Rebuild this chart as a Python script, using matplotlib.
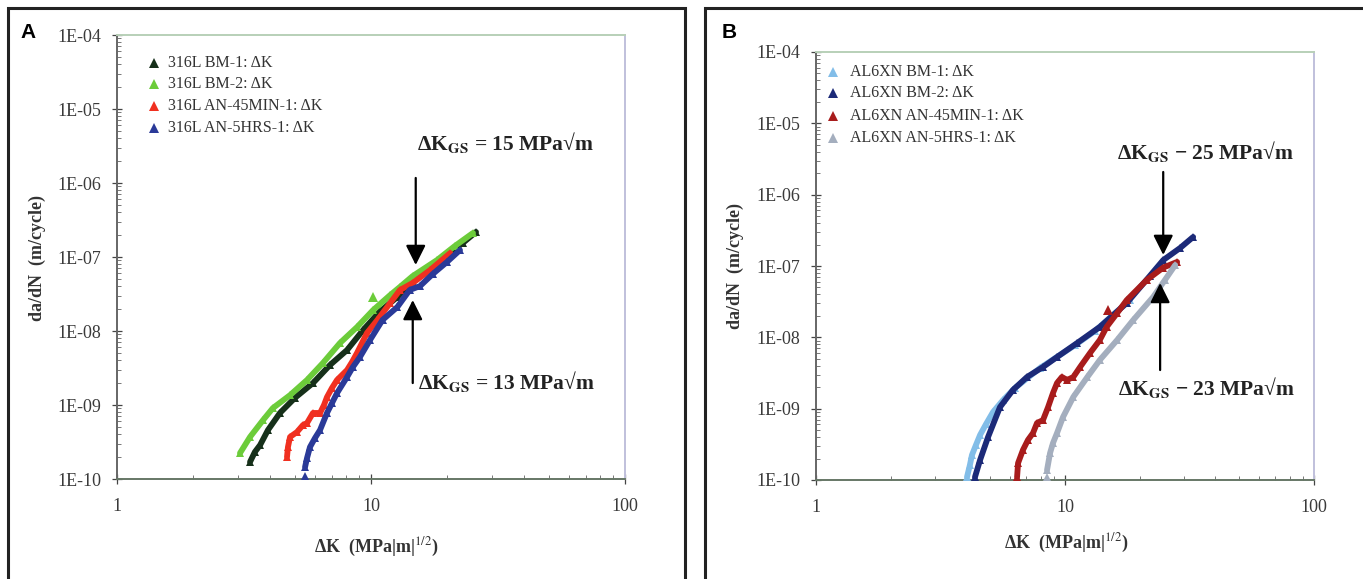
import matplotlib
matplotlib.use("Agg")
import matplotlib.pyplot as plt
from matplotlib.patches import Rectangle
from matplotlib.lines import Line2D

plt.rcParams['font.family'] = ['Liberation Serif', 'DejaVu Serif']
plt.rcParams['mathtext.fontset'] = 'stix'

# ---------------- Panel A data (316L) ----------------
a_bm1_k = [3.34, 3.49, 3.66, 3.93, 4.38, 5.02, 5.91, 6.90, 8.05, 9.31, 10.8, 12.7, 14.6, 17.1, 19.9, 23.0, 25.9]
a_bm1_r = [1.70e-10, 2.32e-10, 2.88e-10, 4.59e-10, 7.80e-10, 1.25e-9, 1.98e-9, 3.48e-9, 5.53e-9, 1.03e-8,
           1.81e-8, 2.88e-8, 4.59e-8, 7.10e-8, 1.06e-7, 1.55e-7, 2.18e-7]

a_bm2_k = [3.05, 3.34, 3.76, 4.11, 4.80, 5.60, 6.47, 7.55, 8.81, 10.2, 11.9, 13.0, 14.6, 18.2, 21.4, 25.2]
a_bm2_r = [2.24e-10, 3.70e-10, 6.26e-10, 9.10e-10, 1.36e-9, 2.18e-9, 3.70e-9, 6.89e-9, 1.13e-8, 1.92e-8,
           3.06e-8, 3.94e-8, 5.53e-8, 9.10e-8, 1.41e-7, 2.11e-7]
a_bm2_out_k = [10.2]
a_bm2_out_r = [2.9e-8]

a_an45_k = [4.67, 4.71, 4.80, 5.11, 5.40, 5.60, 5.91, 6.30, 6.53, 6.71, 7.02, 7.35, 8.05, 8.42, 8.81, 9.64,
            10.6, 11.9, 13.0, 14.6, 17.1, 20.5]
a_an45_r = [1.98e-10, 2.70e-10, 3.70e-10, 4.31e-10, 5.37e-10, 5.71e-10, 7.80e-10, 7.80e-10, 1.0e-9, 1.28e-9,
            1.70e-9, 2.18e-9, 2.97e-9, 3.81e-9, 5.05e-9, 9.40e-9, 1.41e-8, 2.39e-8, 3.58e-8, 4.46e-8,
            6.67e-8, 1.13e-7]

a_an5_k = [5.50, 5.60, 5.75, 6.02, 6.30, 6.71, 7.02, 7.35, 8.05, 8.49, 9.05, 9.91, 11.1, 12.7, 14.2,
           15.6, 17.5, 19.9, 22.4]
a_an5_r = [1.45e-10, 1.92e-10, 2.70e-10, 3.58e-10, 4.59e-10, 7.80e-10, 1.06e-9, 1.45e-9, 2.39e-9,
           3.27e-9, 4.46e-9, 7.55e-9, 1.41e-8, 2.11e-8, 3.58e-8, 4.05e-8, 5.89e-8, 8.55e-8, 1.24e-7]
a_an5_out_k = [5.50]
a_an5_out_r = [1.05e-10]

# ---------------- Panel B data (AL6XN) ----------------
b_bm1_k = [4.04, 4.15, 4.23, 4.39, 4.56, 4.82, 5.14, 5.64, 6.30, 7.94, 11.0, 13.2, 18.2]
b_bm1_r = [1.10e-10, 1.62e-10, 2.24e-10, 3.10e-10, 4.28e-10, 6.10e-10, 8.97e-10, 1.32e-9, 1.95e-9, 3.72e-9,
           7.82e-9, 1.23e-8, 3.33e-8]

b_bm2_k = [4.35, 4.56, 4.91, 5.48, 6.18, 7.04, 8.16, 9.29, 11.2, 13.8, 17.7, 21.9, 24.8, 29.0, 32.7]
b_bm2_r = [1.10e-10, 1.91e-10, 4.01e-10, 1.05e-9, 1.83e-9, 2.78e-9, 3.84e-9, 5.30e-9, 8.34e-9, 1.40e-8,
           3.03e-8, 7.24e-8, 1.21e-7, 1.79e-7, 2.55e-7]

b_an45_k = [6.42, 6.48, 6.78, 7.10, 7.44, 7.72, 8.16, 8.55, 8.95, 9.29, 9.72, 10.2, 10.8, 11.5, 12.6, 13.8,
            14.7, 16.2, 17.7, 21.3, 24.8, 28.2]
b_an45_r = [1.10e-10, 1.73e-10, 2.64e-10, 3.64e-10, 4.56e-10, 6.29e-10, 6.93e-10, 1.05e-9, 1.66e-9, 2.29e-9,
            2.78e-9, 2.52e-9, 2.78e-9, 3.84e-9, 6.02e-9, 9.18e-9, 1.40e-8, 2.19e-8, 3.33e-8,
            6.37e-8, 9.5e-8, 1.14e-7]
b_an45_out_k = [14.9]
b_an45_out_r = [2.4e-8]

b_an5_k = [8.47, 8.71, 8.95, 9.29, 9.82, 10.8, 12.3, 13.8, 16.2, 18.8, 22.6, 25.2, 27.7]
b_an5_r = [1.38e-10, 2.39e-10, 3.30e-10, 4.56e-10, 7.64e-10, 1.46e-9, 2.78e-9, 4.81e-9, 9.18e-9,
           1.75e-8, 3.68e-8, 6.37e-8, 1.03e-7]
b_an5_out_k = [8.47]
b_an5_out_r = [1.08e-10]

a_labels = ["316L BM-1: ΔK", "316L BM-2: ΔK", "316L AN-45MIN-1: ΔK", "316L AN-5HRS-1: ΔK"]
b_labels = ["AL6XN BM-1: ΔK", "AL6XN BM-2: ΔK", "AL6XN AN-45MIN-1: ΔK", "AL6XN AN-5HRS-1: ΔK"]
a_colors = ["#16301a", "#6ccc3a", "#f03020", "#2a3a98"]
b_colors = ["#82bde8", "#1c2a78", "#a81c1c", "#a4aebe"]

y_ticks = [1e-10, 1e-9, 1e-8, 1e-7, 1e-6, 1e-5, 1e-4]
y_tick_labels = ["1E-10", "1E-09", "1E-08", "1E-07", "1E-06", "1E-05", "1E-04"]
x_ticks = [1, 10, 100]
x_tick_labels = ["1", "10", "100"]

# annotations: (K, da/dN) for arrow tail / tip
a_down = ((15.0, 1.17e-6), (15.0, 7.8e-8))
a_up = ((14.6, 1.98e-9), (14.6, 2.62e-8))
b_down = ((24.8, 2.08e-6), (24.8, 1.43e-7))
b_up = ((24.1, 3.48e-9), (24.1, 5.78e-8))

W, H = 1363, 579
fig = plt.figure(figsize=(W / 100, H / 100), dpi=100)


def fx(x):
    return x / W


def fy(y):
    return 1 - y / H


# panel borders
fig.add_artist(Rectangle((fx(8), fy(640)), fx(685) - fx(8), fy(8) - fy(640), fill=False,
                         lw=2.2, ec='#222222', transform=fig.transFigure))
fig.add_artist(Rectangle((fx(705), fy(640)), fx(1420) - fx(705), fy(8) - fy(640), fill=False,
                         lw=2.2, ec='#222222', transform=fig.transFigure))

fig.text(fx(28), fy(33), "A", family=['Liberation Sans', 'DejaVu Sans'], weight='bold', fontsize=15,
         ha='center', va='center')
fig.text(fx(729), fy(33), "B", family=['Liberation Sans', 'DejaVu Sans'], weight='bold', fontsize=15,
         ha='center', va='center')


def make_axes(l, r, t, b):
    ax = fig.add_axes([fx(l), fy(b), fx(r) - fx(l), fy(t) - fy(b)])
    ax.set_xscale('log')
    ax.set_yscale('log')
    ax.set_xlim(1, 100)
    ax.set_ylim(1e-10, 1e-4)
    ax.set_yticks(y_ticks, y_tick_labels)
    ax.set_xticks(x_ticks, x_tick_labels)
    ax.tick_params(axis='both', which='major', direction='inout', length=7, width=0.9,
                   labelsize=13, colors='#444444', labelcolor='#3a3a3a')
    ax.tick_params(axis='both', which='minor', direction='in', length=3, width=0.7, colors='#777777')
    ax.tick_params(axis='x', which='major', pad=10)
    ax.tick_params(axis='y', which='major', pad=8)
    ax.set_yticks([m * 10.0 ** e for e in range(-10, -4) for m in range(2, 10)], minor=True)
    ax.set_yticklabels([], minor=True)
    ax.set_xticks([m * 10.0 ** e for e in range(0, 2) for m in range(2, 10)], minor=True)
    ax.set_xticklabels([], minor=True)
    ax.spines['left'].set_color('#666666')
    ax.spines['bottom'].set_color('#667766')
    ax.spines['top'].set_color('#b8d0b8')
    ax.spines['right'].set_color('#c0c0dc')
    for s in ax.spines.values():
        s.set_linewidth(1.4)
    return ax


def draw_series(ax, ks, rs, color):
    ax.plot(ks, rs, '-', color=color, lw=4.2, solid_capstyle='round', solid_joinstyle='round', zorder=3)
    ax.plot(ks, rs, '^', color=color, ms=6, mew=0, zorder=3)


def draw_points(ax, ks, rs, color):
    ax.plot(ks, rs, '^', color=color, ms=6.5, mew=0, zorder=3)


def draw_arrow(ax, tail, tip):
    ax.annotate('', xy=tip, xytext=tail,
                arrowprops=dict(arrowstyle='-|>,head_length=1.2,head_width=0.6', color='black',
                                lw=1.6, shrinkA=0, shrinkB=0), zorder=5)


def legend(labels, colors, mx, text_x, rows):
    for lab, col, ry in zip(labels, colors, rows):
        fig.add_artist(Line2D([fx(mx)], [fy(ry)], marker='^', ms=7, color=col, mew=0,
                              transform=fig.transFigure))
        fig.text(fx(text_x), fy(ry), lab, fontsize=11.5, color='#333333', ha='left', va='center')


# ---------------- Panel A ----------------
axA = make_axes(117, 625, 35, 479)
draw_series(axA, a_bm1_k, a_bm1_r, a_colors[0])
draw_series(axA, a_bm2_k, a_bm2_r, a_colors[1])
draw_points(axA, a_bm2_out_k, a_bm2_out_r, a_colors[1])
draw_series(axA, a_an45_k, a_an45_r, a_colors[2])
draw_series(axA, a_an5_k, a_an5_r, a_colors[3])
draw_points(axA, a_an5_out_k, a_an5_out_r, a_colors[3])
draw_arrow(axA, *a_down)
draw_arrow(axA, *a_up)
legend(a_labels, a_colors, 154, 168, [63, 84, 106, 128])
fig.text(fx(417), fy(142), r"ΔK$_{\mathbf{GS}}$ = 15 MPa√m", fontsize=15.5, weight='bold',
         ha='left', va='center', color='#222222')
fig.text(fx(418), fy(382), r"ΔK$_{\mathbf{GS}}$ = 13 MPa√m", fontsize=15.5, weight='bold',
         ha='left', va='center', color='#222222')
fig.text(fx(37), fy(258), "da/dN  (m/cycle)", rotation=90, fontsize=13, weight='bold',
         ha='center', va='center', color='#333333')
fig.text(fx(376), fy(547), r"ΔK  (MPa|m|$^{1/2}$)", fontsize=13, weight='bold',
         ha='center', va='center', color='#333333')

# ---------------- Panel B ----------------
axB = make_axes(816, 1314, 52, 480)
draw_series(axB, b_bm1_k, b_bm1_r, b_colors[0])
draw_series(axB, b_bm2_k, b_bm2_r, b_colors[1])
draw_series(axB, b_an45_k, b_an45_r, b_colors[2])
draw_points(axB, b_an45_out_k, b_an45_out_r, b_colors[2])
draw_series(axB, b_an5_k, b_an5_r, b_colors[3])
draw_points(axB, b_an5_out_k, b_an5_out_r, b_colors[3])
draw_arrow(axB, *b_down)
draw_arrow(axB, *b_up)
legend(b_labels, b_colors, 833, 850, [72, 93, 116, 138])
fig.text(fx(1117), fy(152), r"ΔK$_{\mathbf{GS}}$ − 25 MPa√m", fontsize=15.5, weight='bold',
         ha='left', va='center', color='#222222')
fig.text(fx(1118), fy(387), r"ΔK$_{\mathbf{GS}}$ − 23 MPa√m", fontsize=15.5, weight='bold',
         ha='left', va='center', color='#222222')
fig.text(fx(735), fy(266), "da/dN  (m/cycle)", rotation=90, fontsize=13, weight='bold',
         ha='center', va='center', color='#333333')
fig.text(fx(1066), fy(543), r"ΔK  (MPa|m|$^{1/2}$)", fontsize=13, weight='bold',
         ha='center', va='center', color='#333333')

fig.savefig("out.png", dpi=100)
